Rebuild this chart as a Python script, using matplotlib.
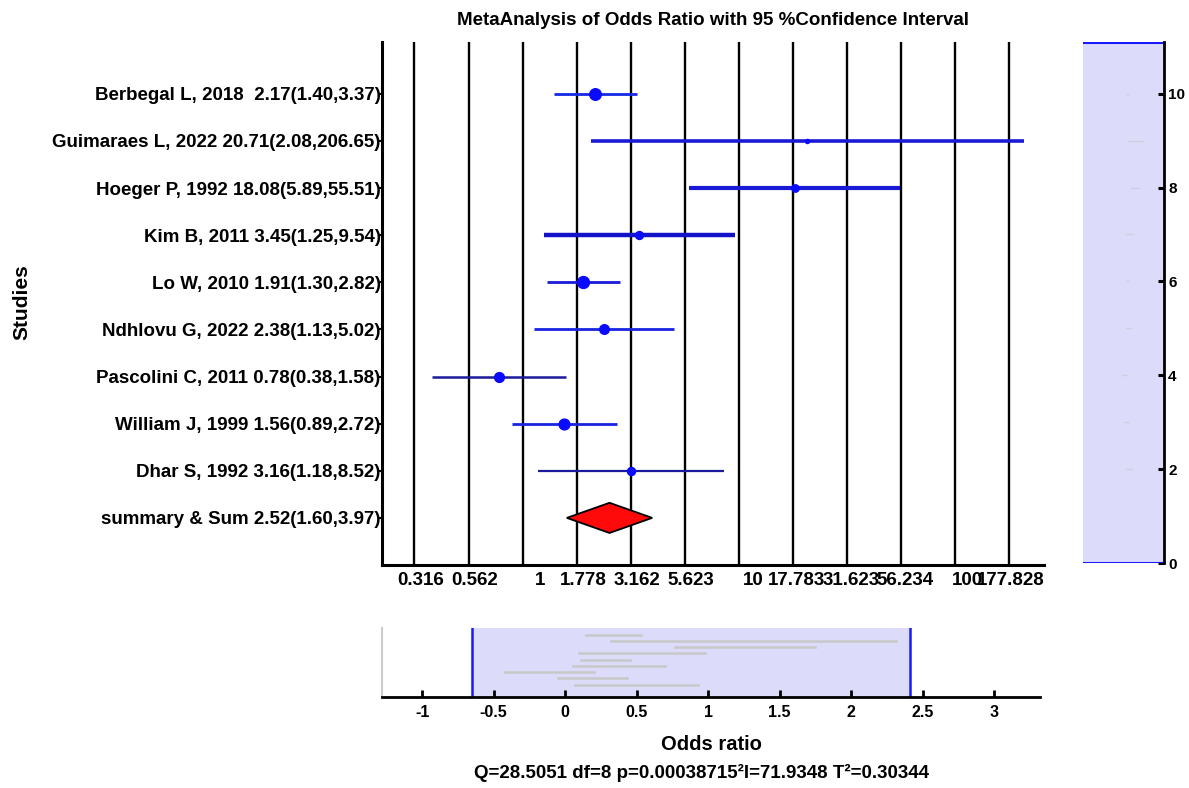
import numpy as np
import matplotlib
matplotlib.use("Agg")
import matplotlib.pyplot as plt
import matplotlib.transforms as mtransforms

plt.rcParams['font.family'] = ['Liberation Sans', 'DejaVu Sans']
plt.rcParams['font.weight'] = 'bold'

# ---------------- data ----------------
study_names = ["Berbegal L, 2018 ", "Guimaraes L, 2022", "Hoeger P, 1992", "Kim B, 2011",
               "Lo W, 2010", "Ndhlovu G, 2022", "Pascolini C, 2011", "William J, 1999",
               "Dhar S, 1992"]
odds_ratio = [2.17, 20.71, 18.08, 3.45, 1.91, 2.38, 0.78, 1.56, 3.16]
ci_low = [1.40, 2.08, 5.89, 1.25, 1.30, 1.13, 0.38, 0.89, 1.18]
ci_high = [3.37, 206.65, 55.51, 9.54, 2.82, 5.02, 1.58, 2.72, 8.52]
weights = [15.2, 3.2, 8.5, 9.4, 15.7, 12.0, 12.4, 14.0, 9.6]   # % (marker size)

summary_name = "summary & Sum"
summary_or, summary_low, summary_high = 2.52, 1.60, 3.97

tick_exponents = [-0.5, -0.25, 0, 0.25, 0.5, 0.75, 1, 1.25, 1.5, 1.75, 2, 2.25]
view_log_range = (-0.65, 2.41)       # log10 limits of the shown window
overview_ticks = [-1, -0.5, 0, 0.5, 1, 1.5, 2, 2.5, 3]
title_text = "MetaAnalysis of Odds Ratio with 95 %Confidence Interval"
xlabel_text = "Odds ratio"
stats_text = "Q=28.5051 df=8 p=0.00038715\u00b2I=71.9348 T\u00b2=0.30344"

# ---------------- styles ----------------
line_colors = ['#1428e6', '#1a1ad6', '#1a1ad6', '#1212c8', '#1a1ad6', '#1a24e0',
               '#1a1a9a', '#1a24e0', '#1a1a9a']
line_widths = [2.0, 2.6, 3.0, 3.2, 2.0, 2.0, 1.8, 2.0, 1.6]

n = len(study_names)
ypos = np.arange(n + 1, 1, -1)       # 10 .. 2
y_sum = 1
ytop = 11.1

fig = plt.figure(figsize=(11.89, 7.88), dpi=100)

# ---------------- main forest plot ----------------
ax = fig.add_axes([0.3213, 0.2830, 0.5568, 0.6637])
ax.set_xscale('log')
ax.set_xlim(10 ** view_log_range[0], 10 ** view_log_range[1])
ax.set_ylim(0, ytop)

ticks = [10 ** e for e in tick_exponents]
ax.set_xticks(ticks)
ax.set_xticks([], minor=True)
ax.set_xticklabels([])
ax.tick_params(axis='x', length=0)
ax.grid(axis='x', color='black', linewidth=1.7, zorder=0)
ax.set_axisbelow(True)

labels = [f"{v:.3f}".rstrip('0').rstrip('.') for v in ticks]
for t, lab in zip(ticks, labels):
    off = mtransforms.ScaledTranslation((2.7 * (7 - len(lab)) + 1) / 100, 0,
                                        fig.dpi_scale_trans)
    ax.text(t, -0.014, lab, transform=ax.get_xaxis_transform() + off,
            ha='center', va='top', fontsize=13.5, fontweight='bold')

for i in range(n):
    ax.plot([ci_low[i], ci_high[i]], [ypos[i], ypos[i]], color=line_colors[i],
            lw=line_widths[i], solid_capstyle='butt', zorder=3)
    ax.plot(odds_ratio[i], ypos[i], 'o', color='#0a0aff', mec='#0a0aff',
            ms=0.45 * weights[i] + 1.5, zorder=4)

dh = 0.32
ax.fill([summary_low, summary_or, summary_high, summary_or],
        [y_sum, y_sum + dh, y_sum, y_sum - dh], facecolor='#ff0a0a',
        edgecolor='black', lw=1.3, zorder=5)

ytl = [f"{nm} {o:.2f}({l:.2f},{h:.2f})" for nm, o, l, h in
       zip(study_names, odds_ratio, ci_low, ci_high)]
ytl.append(f"{summary_name} {summary_or:.2f}({summary_low:.2f},{summary_high:.2f})")
ax.set_yticks(list(ypos) + [y_sum])
ax.set_yticklabels(ytl, fontsize=13.5, fontweight='bold')
ax.tick_params(axis='y', direction='out', length=3, width=1.5, pad=-2)
for s in ['top', 'right']:
    ax.spines[s].set_visible(False)
for s in ['left', 'bottom']:
    ax.spines[s].set_linewidth(2.2)
ax.set_title(title_text, fontsize=13.5, fontweight='bold', pad=12)
fig.text(22 / 1189, 0.616, "Studies", rotation=90, ha='center', va='center',
         fontsize=15, fontweight='bold')

# ---------------- right overview (y) ----------------
axr = fig.add_axes([0.9109, 0.2855, 0.0681, 0.6612])
axr.set_xlim(-5.55, 5.1)
axr.set_ylim(0, ytop)
axr.axhspan(0, ytop, color='#dcdcfa', zorder=0)
axr.axhline(0, color='#1a1aff', lw=2.2)
axr.axhline(ytop, color='#1a1aff', lw=2.2)
for i in range(n):
    axr.plot([np.log10(ci_low[i]), np.log10(ci_high[i])], [ypos[i], ypos[i]],
             color='#cfcfe0', lw=1.0, zorder=2)
axr.yaxis.tick_right()
axr.set_yticks([0, 2, 4, 6, 8, 10])
axr.tick_params(axis='y', direction='in', length=4, width=2.2, labelsize=11, pad=3)
axr.set_xticks([])
for s in ['top', 'left', 'bottom']:
    axr.spines[s].set_visible(False)
axr.spines['right'].set_linewidth(2)

# ---------------- bottom overview (x) ----------------
axb = fig.add_axes([0.3213, 0.1155, 0.5534, 0.0876])
axb.set_xlim(-1.28, 3.32)
axb.set_ylim(0, ytop)
axb.axvspan(view_log_range[0], view_log_range[1], color='#dcdcfa', zorder=0)
axb.axvline(view_log_range[0], color='#1a1aff', lw=1.8)
axb.axvline(view_log_range[1], color='#1a1aff', lw=1.8)
for i in range(n):
    axb.plot([np.log10(ci_low[i]), np.log10(ci_high[i])], [ypos[i], ypos[i]],
             color='#c8c8c8', lw=1.8, zorder=2)
axb.set_xticks(overview_ticks)
axb.set_xticklabels([f"{t:g}" for t in overview_ticks])
axb.tick_params(axis='x', direction='in', length=5, width=2, labelsize=11.5, pad=6)
axb.set_yticks([])
for s in ['top', 'right']:
    axb.spines[s].set_visible(False)
axb.spines['left'].set_color('#cccccc')
axb.spines['left'].set_linewidth(1.5)
axb.spines['bottom'].set_linewidth(2)

xc = 0.3213 + 0.5534 / 2
fig.text(xc, 1 - 745 / 788, xlabel_text, ha='center', va='center',
         fontsize=14.5, fontweight='bold')
fig.text(xc - 0.008, 1 - 773 / 788, stats_text, ha='center', va='center',
         fontsize=13.5, fontweight='bold')

fig.savefig("out.png", dpi=100)
